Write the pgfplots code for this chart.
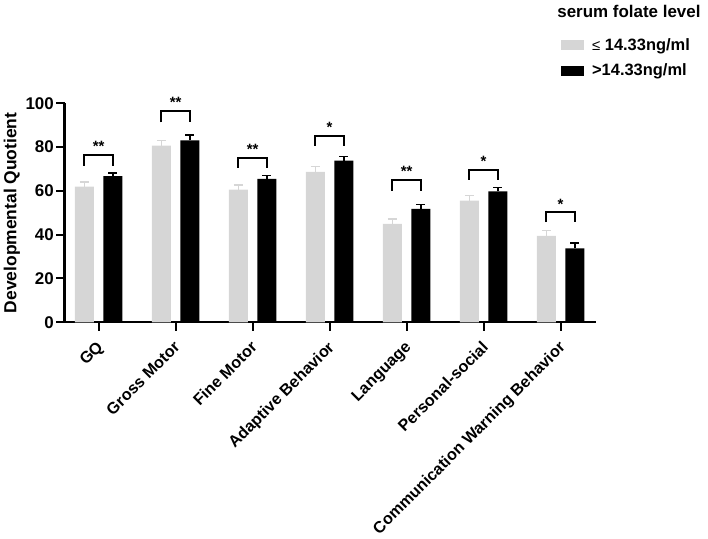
\documentclass[border=0pt]{standalone}
\usepackage{pgfplots}
\pgfplotsset{compat=1.18}
\usepackage{pgfplotstable}
\usepackage{fontspec}
\setmainfont{Liberation Sans}
\definecolor{lightbar}{RGB}{214,214,214}

\pgfplotstableread{
x y e
0 62.0 2.1
1 80.7 2.3
2 60.6 2.1
3 68.7 2.4
4 44.9 2.3
5 55.6 2.3
6 39.5 2.4
}\lowtab
\pgfplotstableread{
x y e
0 66.8 1.4
1 83.1 2.5
2 65.5 1.6
3 73.8 1.9
4 51.8 2.1
5 59.8 1.7
6 33.8 2.3
}\hightab

\begin{document}
\begin{tikzpicture}
\begin{axis}[
  scale only axis, width=531.5bp, height=219bp,
  xmin=-0.444, xmax=6.46, ymin=0, ymax=100,
  axis x line*=bottom, axis y line*=left,
  axis line style={-, line width=2bp, black},
  xtick={0,...,6},
  xticklabels={GQ, Gross Motor, Fine Motor, Adaptive Behavior, Language, Personal-social, Communication Warning Behavior},
  ytick={0,20,...,100},
  tick align=outside,
  major tick length=8.5bp,
  tick style={line width=2bp, black},
  x tick label style={rotate=45, anchor=north east, inner sep=1bp, yshift=-3.5bp, xshift=-7.5bp,
    font=\bfseries\fontsize{16.2}{19}\selectfont},
  y tick label style={inner sep=2bp, font=\bfseries\fontsize{17}{20}\selectfont},
  /pgf/number format/assume math mode=true,
  ylabel={Developmental Quotient},
  ylabel style={font=\bfseries\fontsize{17.5}{20}\selectfont},
  clip=false,
  legend style={at={(axis description cs:0.934,1.207)}, anchor=west, draw=none, fill=none,
    font=\bfseries\fontsize{16.5}{19}\selectfont, row sep=8bp, inner sep=0pt},
  legend cell align=left,
  legend image code/.code={\path[#1] (0bp,-5bp) rectangle (23bp,5bp); \path (29bp,0bp);},
]
\addplot[ybar, bar width=0.247, bar shift=0pt, fill=lightbar, draw=none,
  error bars/.cd, y dir=plus, y explicit,
  error bar style={line width=1.5bp, lightbar},
  error mark options={rotate=90, mark size=4.5bp, line width=1.5bp, lightbar}]
  table[x expr=\thisrow{x}-0.185, y=y, y error=e]{\lowtab};
\addlegendentry{{\mdseries\fontsize{15}{18}\selectfont ≤} 14.33ng/ml}
\addplot[ybar, bar width=0.247, bar shift=0pt, fill=black, draw=none,
  error bars/.cd, y dir=plus, y explicit,
  error bar style={line width=1.5bp, black},
  error mark options={rotate=90, mark size=4.5bp, line width=1.5bp, black}]
  table[x expr=\thisrow{x}+0.185, y=y, y error=e]{\hightab};
\addlegendentry{>14.33ng/ml}

% significance brackets
\addplot[black, line width=2bp, sharp plot, no marks, forget plot] coordinates {(-0.19,71.5) (-0.19,76.6) (0.19,76.6) (0.19,71.5)};
\addplot[black, line width=2bp, sharp plot, no marks, forget plot] coordinates {(0.81,91.3) (0.81,96.3) (1.19,96.3) (1.19,91.3)};
\addplot[black, line width=2bp, sharp plot, no marks, forget plot] coordinates {(1.81,70.5) (1.81,75.1) (2.19,75.1) (2.19,70.5)};
\addplot[black, line width=2bp, sharp plot, no marks, forget plot] coordinates {(2.81,80.7) (2.81,85.2) (3.19,85.2) (3.19,80.7)};
\addplot[black, line width=2bp, sharp plot, no marks, forget plot] coordinates {(3.81,60.1) (3.81,65.0) (4.19,65.0) (4.19,60.1)};
\addplot[black, line width=2bp, sharp plot, no marks, forget plot] coordinates {(4.81,65.0) (4.81,69.7) (5.19,69.7) (5.19,65.0)};
\addplot[black, line width=2bp, sharp plot, no marks, forget plot] coordinates {(5.81,45.7) (5.81,50.2) (6.19,50.2) (6.19,45.7)};

\tikzset{star/.style={font=\bfseries\fontsize{15}{18}\selectfont, anchor=base, inner sep=0pt}}
\node[star] at (axis cs:0,78.2) {**};
\node[star] at (axis cs:1,97.9) {**};
\node[star] at (axis cs:2,76.7) {**};
\node[star] at (axis cs:3,86.6) {*};
\node[star] at (axis cs:4,66.5) {**};
\node[star] at (axis cs:5,71.1) {*};
\node[star] at (axis cs:6,51.6) {*};

\node[font=\bfseries\fontsize{17}{20}\selectfont, anchor=base west, inner sep=0pt] at (axis description cs:0.927,1.394) {serum folate level};
\end{axis}
\path (-64.5bp,322.3bp) rectangle (643.5bp,-214.7bp);
\end{tikzpicture}
\end{document}
